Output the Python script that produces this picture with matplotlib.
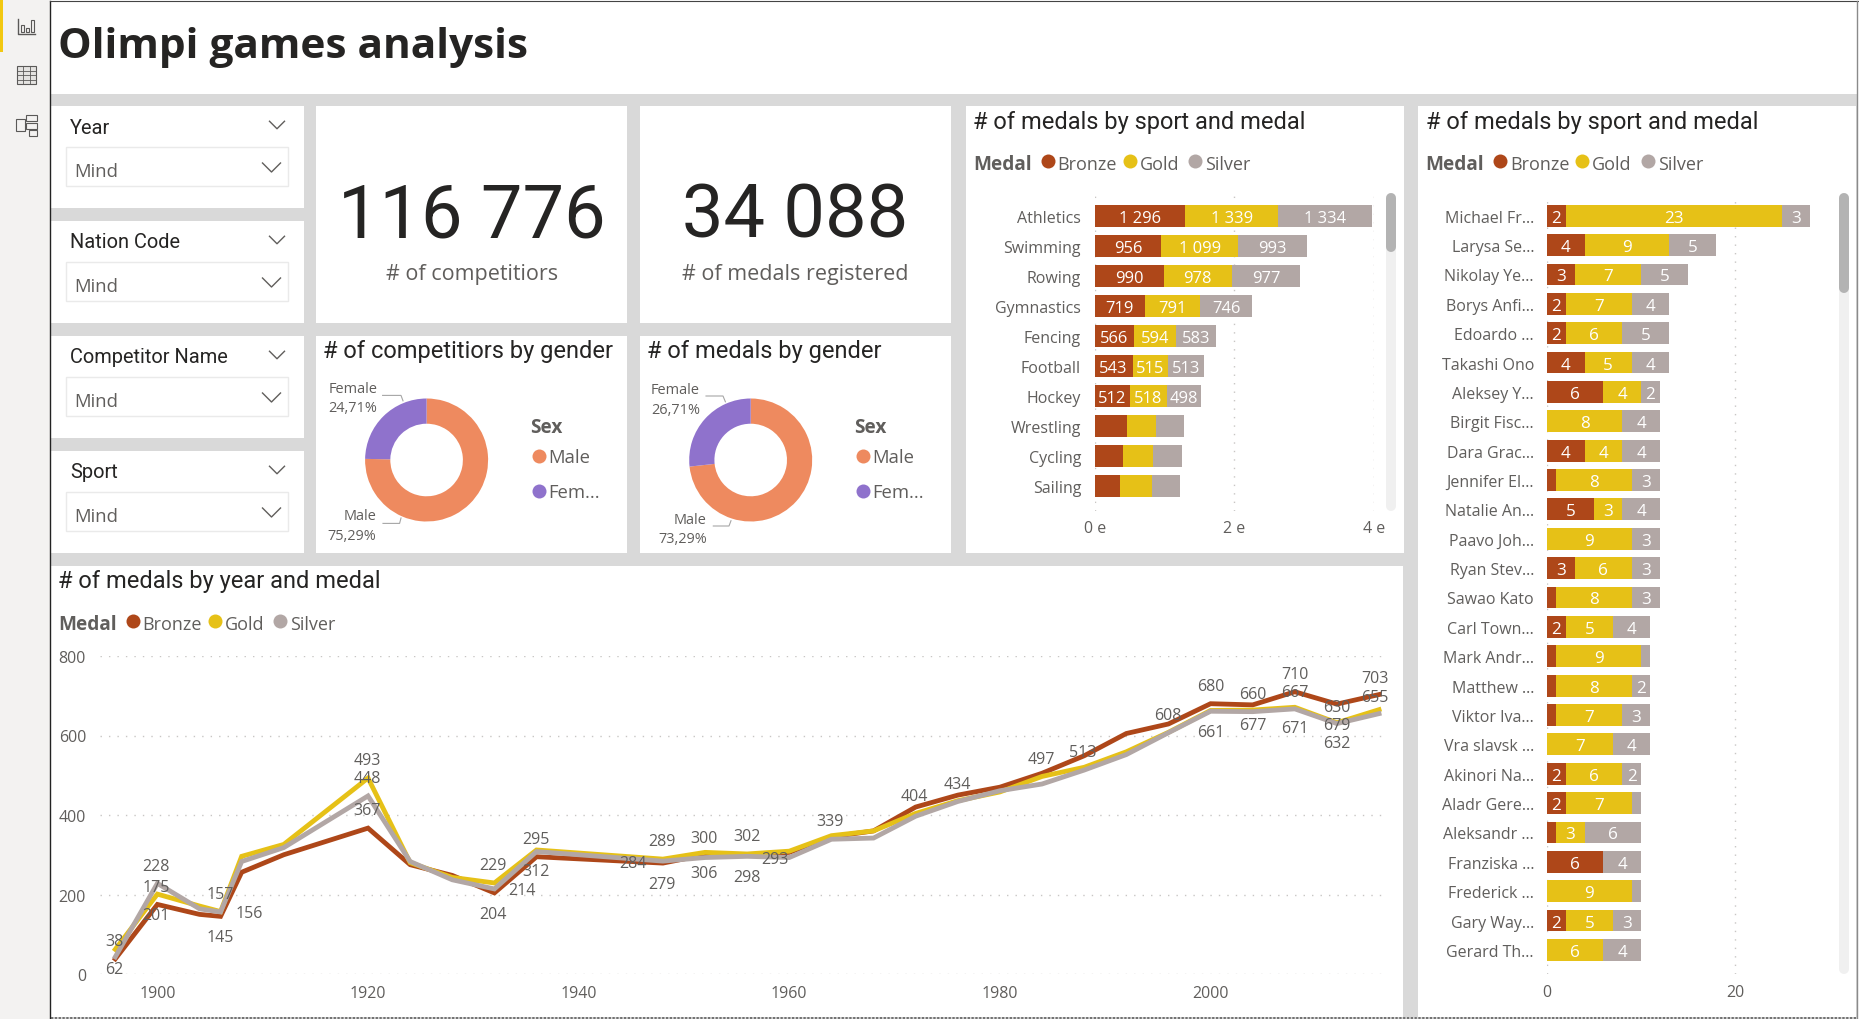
#!/usr/bin/env python3
"""Olympic games report page: slicers, cards, donuts, stacked bars and a line chart."""

import matplotlib
matplotlib.use('Agg')
import matplotlib.pyplot as plt
from matplotlib.patches import Rectangle

W, H = 1859, 1020

# --- Data ---
MEDALS = ['Bronze', 'Gold', 'Silver']

SPORTS = ['Athletics', 'Swimming', 'Rowing', 'Gymnastics', 'Fencing', 'Football',
          'Hockey', 'Wrestling', 'Cycling', 'Sailing']
SPORT_BRONZE = [1296, 956, 990, 719, 566, 543, 512, 459, 411, 358]
SPORT_GOLD = [1339, 1099, 978, 791, 594, 515, 518, 416, 421, 459]
SPORT_SILVER = [1334, 993, 977, 746, 583, 513, 498, 411, 420, 406]

ATHLETES = ['Michael Fr...', 'Larysa Se...', 'Nikolay Ye...', 'Borys Anfi...', 'Edoardo ...',
            'Takashi Ono', 'Aleksey Y...', 'Birgit Fisc...', 'Dara Grac...', 'Jennifer El...',
            'Natalie An...', 'Paavo Joh...', 'Ryan Stev...', 'Sawao Kato', 'Carl Town...',
            'Mark Andr...', 'Matthew ...', 'Viktor Iva...', 'Vra slavsk ...', 'Akinori Na...',
            'Aladr Gere...', 'Aleksandr ...', 'Franziska ...', 'Frederick ...', 'Gary Way...',
            'Gerard Th...']
ATHLETE_BRONZE = [2, 4, 3, 2, 2, 4, 6, 0, 4, 1, 5, 0, 3, 1, 2, 1, 1, 1, 0, 2, 2, 1, 6, 0, 2, 0]
ATHLETE_GOLD = [23, 9, 7, 7, 6, 5, 4, 8, 4, 8, 3, 9, 6, 8, 5, 9, 8, 7, 7, 6, 7, 3, 0, 9, 5, 6]
ATHLETE_SILVER = [3, 5, 5, 4, 5, 4, 2, 4, 4, 3, 4, 3, 3, 3, 4, 1, 2, 3, 4, 2, 1, 6, 4, 1, 3, 4]

YEARS = [1896, 1900, 1904, 1906, 1908, 1912, 1920, 1924, 1928, 1932, 1936, 1948, 1952, 1956, 1960,
         1964, 1968, 1972, 1976, 1980, 1984, 1988, 1992, 1996, 2000, 2004, 2008, 2012, 2016]
YEAR_BRONZE = [38, 175, 150, 145, 256, 300, 367, 275, 248, 204, 295, 279, 300, 298, 306,
               345, 360, 420, 450, 470, 505, 549, 605, 629, 680, 677, 710, 679, 703]
YEAR_GOLD = [62, 201, 171, 157, 296, 326, 493, 280, 243, 229, 312, 289, 306, 302, 309,
             348, 360, 404, 436, 458, 497, 520, 559, 608, 663, 664, 671, 632, 665]
YEAR_SILVER = [43, 228, 164, 156, 283, 318, 448, 283, 237, 214, 308, 284, 293, 296, 293,
               339, 342, 397, 434, 461, 478, 513, 552, 607, 661, 660, 667, 630, 655]

# data labels on the line chart, Power BI shows only some of them
LABEL_YEARS = [1896, 1896, 1900, 1900, 1900, 1906, 1906, 1906, 1920, 1920, 1920, 1932, 1932, 1932,
               1936, 1936, 1948, 1948, 1948, 1952, 1952, 1956, 1956, 1960, 1964, 1972, 1976, 1984,
               1988, 1996, 2000, 2000, 2004, 2004, 2008, 2008, 2008, 2012, 2012, 2012, 2016, 2016]
LABEL_VALUES = [38, 62, 228, 175, 201, 157, 145, 156, 493, 448, 367, 229, 204, 214,
                295, 312, 289, 279, 284, 300, 306, 302, 298, 293, 339, 404, 434, 497,
                513, 608, 680, 661, 660, 677, 710, 667, 671, 630, 679, 632, 703, 655]
LABEL_OFFSETS = [(-1, 18), (-1, -20), (-1, 17), (-1, 17), (-1, -21), (0, 18), (0, -21), (29, -1),
                 (-1, 18), (-1, 18), (-1, 18), (-1, 18), (-1, -21), (28, -1), (-1, 18), (-1, -21),
                 (-1, 18), (-1, -21), (-30, -2), (-1, 17), (-1, -21), (0, 18), (0, -21), (-14, -1),
                 (-1, 18), (-1, 17), (0, 17), (-1, 17), (-1, 18), (-1, 17), (0, 18), (0, -21),
                 (0, 18), (0, -20), (0, 18), (0, 17), (0, -21), (0, 17), (0, -21), (0, -20),
                 (-4, 17), (-4, 17)]

SEX_LABELS = ['Male', 'Female']
COMPETITOR_SHARE = [75.29, 24.71]
MEDAL_SHARE = [73.29, 26.71]

SLICER_TITLES = ['Year', 'Nation Code', 'Competitor Name', 'Sport']

# --- Style ---
BODY_FONT = 'Open Sans'
HEAD_FONT = 'Roboto'
BG_GREY = '#D9D9D9'
RAIL = '#F3F2F1'
TEXT_GREY = '#605E5C'
DARK = '#252423'
GRID = '#C8C6C4'
MEDAL_COLORS = {'Bronze': '#AE4719', 'Gold': '#E6C117', 'Silver': '#B2A7A5'}
SEX_COLORS = ['#EE8A5F', '#8F72CC']
DOTS = (0, (1, 5.1))


def pt(px):
    return px * 0.72


def px_axes(fig, x0, y0, x1, y1):
    ax = fig.add_axes([x0 / W, 1 - y1 / H, (x1 - x0) / W, (y1 - y0) / H])
    ax.patch.set_alpha(0)
    return ax


def panel(ax, x0, y0, x1, y1):
    ax.add_patch(Rectangle((x0, y0), x1 - x0, y1 - y0, facecolor='white', edgecolor='none'))


def label(ax, x, y, s, size=15, color=TEXT_GREY, ha='left', family=BODY_FONT, weight='normal'):
    # bbox centring sits a bit high compared to the report text
    ax.text(x, y + 2, s, fontsize=pt(size), color=color, ha=ha, va='center',
            family=family, weight=weight)


def chevron(ax, cx, cy, width, color='#605E5C'):
    ax.plot([cx - width / 2, cx, cx + width / 2], [cy - width / 4, cy + width / 4, cy - width / 4],
            color=color, lw=1.0)


def draw_rail(ax):
    ax.add_patch(Rectangle((0, 0), 50, H, facecolor=RAIL, edgecolor='none'))
    ax.add_patch(Rectangle((0, 0), 3, 53, facecolor='#F2C811', edgecolor='none'))
    c = '#5A5958'
    # report icon
    ax.plot([18, 18, 35], [20, 35, 35], color=c, lw=1)
    for x, top in [(21, 26), (26, 29), (31, 21)]:
        ax.add_patch(Rectangle((x, top), 3, 33 - top, facecolor='none', edgecolor=c, lw=0.8))
    # data icon
    ax.add_patch(Rectangle((17, 67), 19.5, 18, facecolor='#E4E3E1', edgecolor=c, lw=0.8))
    for x in [23.5, 30]:
        ax.plot([x, x], [67, 85], color=c, lw=0.6)
    for y in [71.5, 76, 80.5]:
        ax.plot([17, 36.5], [y, y], color=c, lw=0.6)
    # model icon
    for x, y, w, h in [(16, 120, 9, 12), (26, 116, 11, 6), (26, 124, 11, 6), (29, 131, 8, 6)]:
        ax.add_patch(Rectangle((x, y), w, h, facecolor='none', edgecolor=c, lw=0.8))


def draw_slicer(ax, title, top):
    label(ax, 70, top + 19, title, size=20, color=DARK, family=HEAD_FONT)
    chevron(ax, 277, top + 19, 15)
    ax.add_patch(Rectangle((66.5, top + 40.5), 222, 39, facecolor='white', edgecolor='#EAEAEA', lw=1))
    label(ax, 74, top + 63, 'Mind', size=18.5)
    chevron(ax, 271.5, top + 61.5, 18)


def draw_card(ax, cx, value, caption):
    label(ax, cx, 215, value, size=74, color=DARK, ha='center', family=HEAD_FONT)
    label(ax, cx, 272.5, caption, size=21.5, ha='center')


def draw_legend(ax, x, y):
    label(ax, x - 1, y, 'Medal', size=19, weight='bold')
    for name, dot_dx, text_dx in zip(MEDALS, [73.7, 156, 221.5], [83.5, 166, 231.5]):
        ax.plot(x + dot_dx, y - 1, 'o', ms=pt(14), color=MEDAL_COLORS[name], mew=0)
        label(ax, x + text_dx, y, name, size=18)


def draw_donut(fig, base, cx, shares, title, title_x, sex_x, label_pos, leaders):
    label(base, title_x, 350, title, size=23.6, color=DARK, family=HEAD_FONT)
    ax = px_axes(fig, cx - 61.5, 399.5, cx + 61.5, 522.5)
    ax.pie(shares, colors=SEX_COLORS, startangle=90, counterclock=False, radius=1,
           wedgeprops={'width': 0.41, 'edgecolor': 'none'})
    ax.set_xlim(-1, 1)
    ax.set_ylim(-1, 1)

    for name, share, (right, y0, y1) in zip(SEX_LABELS, shares, label_pos):
        label(base, right, y0, name, size=14.5, ha='right')
        label(base, right, y1, f'{share:.2f}%'.replace('.', ','), size=14.5, ha='right')
    for xs, ys in leaders:
        base.plot(xs, ys, color='#A6A6A6', lw=0.8)

    label(base, sex_x - 1, 426, 'Sex', size=19, weight='bold')
    for name, y, color in zip(['Male', 'Fem...'], [457, 492], SEX_COLORS):
        base.plot(sex_x + 8.3, y, 'o', ms=pt(14), color=color, mew=0)
        label(base, sex_x + 17.7, y - 1, name, size=18.5)


def draw_stacked(ax, names, bronze, gold, silver, min_label, size=16.5):
    lefts = [0] * len(names)
    for medal, values in zip(MEDALS, [bronze, gold, silver]):
        ax.barh(range(len(names)), values, left=lefts, height=0.745,
                color=MEDAL_COLORS[medal], edgecolor='none', zorder=3)
        for i, v in enumerate(values):
            if v >= min_label:
                ax.annotate(f'{v:,}'.replace(',', ' '), (lefts[i] + v / 2, i), xytext=(0, -2),
                            textcoords='offset pixels', ha='center', va='center', color='white',
                            fontsize=pt(size), family=BODY_FONT, zorder=4)
        lefts = [a + b for a, b in zip(lefts, values)]
    ax.set_yticks(range(len(names)), names)
    ax.xaxis.grid(True, color=GRID, lw=1, linestyle=DOTS)
    ax.set_axisbelow(True)
    ax.tick_params(length=0, labelcolor=TEXT_GREY)
    for lab in ax.get_xticklabels() + ax.get_yticklabels():
        lab.set_family(BODY_FONT)
        lab.set_fontsize(pt(16))
    for spine in ax.spines.values():
        spine.set_visible(False)


def scrollbar(ax, x, y0, y1, thumb_end):
    ax.plot([x, x], [y0 + 5, y1 - 5], color='#F0F0F0', lw=pt(10), solid_capstyle='round')
    ax.plot([x, x], [y0 + 5, thumb_end - 5], color='#B3B3B3', lw=pt(10), solid_capstyle='round')


def draw_line_chart(ax):
    series = [('Bronze', YEAR_BRONZE), ('Gold', YEAR_GOLD), ('Silver', YEAR_SILVER)]
    for medal, values in series:
        ax.plot(YEARS, values, color=MEDAL_COLORS[medal], lw=pt(4.8), zorder=3,
                solid_joinstyle='miter', clip_on=False)
    for year, value, (dx, dy) in zip(LABEL_YEARS, LABEL_VALUES, LABEL_OFFSETS):
        ax.annotate(str(value), (year, value), xytext=(dx, dy), textcoords='offset pixels',
                    ha='center', va='center', color=TEXT_GREY, fontsize=pt(16),
                    family=BODY_FONT, zorder=4)
    ax.set_xlim(1894.55, 2016.85)
    ax.set_ylim(0, 800)
    ax.set_xticks([1900, 1920, 1940, 1960, 1980, 2000])
    ax.set_yticks([0, 200, 400, 600, 800])
    ax.yaxis.grid(True, color=GRID, lw=1, linestyle=DOTS)
    ax.set_axisbelow(True)
    ax.tick_params(axis='x', length=0, pad=pt(11.5), labelcolor=TEXT_GREY)
    ax.tick_params(axis='y', length=0, pad=pt(14), labelcolor=TEXT_GREY)
    for lab in ax.get_xticklabels() + ax.get_yticklabels():
        lab.set_family(BODY_FONT)
        lab.set_fontsize(pt(16))
    for spine in ax.spines.values():
        spine.set_visible(False)


def main():
    fig = plt.figure(figsize=(W / 100, H / 100), dpi=100, facecolor='white')
    base = fig.add_axes([0, 0, 1, 1])
    base.set_xlim(0, W)
    base.set_ylim(H, 0)
    base.axis('off')

    base.add_patch(Rectangle((50, 95), 1807, 925, facecolor=BG_GREY, edgecolor='none'))
    draw_rail(base)

    # page frame
    base.plot([50.5, 50.5], [2, H], color='#222222', lw=1)
    base.plot([50, W], [2, 2], color='#444444', lw=0.8)
    base.plot([1857, 1857], [2, H], color='#8A8A8A', lw=1)

    label(base, 58, 46, 'Olimpi games analysis', size=42.4, color=DARK, weight='bold')

    # slicers
    for title, top in zip(SLICER_TITLES, [107, 222, 337, 452]):
        panel(base, 51, top, 304, top + 102)
        draw_slicer(base, title, top)

    # cards and donuts
    for x0, x1 in [(316, 627), (640, 951)]:
        panel(base, x0, 107, x1, 324)
        panel(base, x0, 337, x1, 554)
    draw_card(base, 472, '116 776', '# of competitiors')
    draw_card(base, 795.5, '34 088', '# of medals registered')

    draw_donut(fig, base, 426.6, COMPETITOR_SHARE, '# of competitiors by gender', 323.3, 530.7,
               [(376.4, 515, 535), (377.6, 388, 407)],
               [([382.6, 401, 403], [396.4, 396.4, 401.8]), ([383, 399.6, 401], [524.4, 524.4, 519])])
    draw_donut(fig, base, 750.7, MEDAL_SHARE, '# of medals by gender', 647, 854.8,
               [(706.7, 518.6, 538), (700, 389, 408.5)],
               [([706, 723, 725.4], [397, 397, 402.8]), ([713.3, 729, 731], [527, 527, 521.7])])

    # sport bars
    panel(base, 966, 107, 1404, 554)
    label(base, 973, 120, '# of medals by sport and medal', size=23.6, color=DARK, family=HEAD_FONT)
    draw_legend(base, 974, 163)
    scrollbar(base, 1391, 194, 511.7, 253)
    ax_sport = px_axes(fig, 1094.7, 197, 1373.7, 511.7)
    ax_sport.set_xlim(0, 4000)
    ax_sport.set_ylim(9.83, -0.667)
    ax_sport.set_xticks([0, 2000, 4000], ['0 e', '2 e', '4 e'])
    draw_stacked(ax_sport, SPORTS, SPORT_BRONZE, SPORT_GOLD, SPORT_SILVER, 490)
    ax_sport.tick_params(axis='y', pad=pt(13.7))
    ax_sport.tick_params(axis='x', pad=pt(9.5))

    # athlete bars
    panel(base, 1418, 107, 1856, 1018)
    label(base, 1426, 120, '# of medals by sport and medal', size=23.6, color=DARK, family=HEAD_FONT)
    draw_legend(base, 1426.3, 163)
    scrollbar(base, 1844, 194, 975, 294)
    ax_ath = px_axes(fig, 1547, 196, 1820, 975)
    ax_ath.set_xlim(0, 29.04)
    ax_ath.set_ylim(25.82, -0.705)
    ax_ath.set_xticks([0, 20])
    draw_stacked(ax_ath, ATHLETES, ATHLETE_BRONZE, ATHLETE_GOLD, ATHLETE_SILVER, 2, size=17)
    ax_ath.tick_params(axis='y', pad=pt(13))
    ax_ath.tick_params(axis='x', pad=pt(10.5))

    # medals over time
    panel(base, 51, 567, 1403, 1018)
    label(base, 58.3, 579.5, '# of medals by year and medal', size=23.6, color=DARK, family=HEAD_FONT)
    draw_legend(base, 59, 623)
    ax_line = px_axes(fig, 100, 657, 1388, 975)
    draw_line_chart(ax_line)

    # dotted edge along the bottom of the page
    base.plot([51, 1857], [1018.5, 1018.5], color='#555555', lw=1.1, linestyle=(0, (1.5, 1)))

    fig.savefig('out.png', dpi=100, facecolor='white')


if __name__ == '__main__':
    main()
